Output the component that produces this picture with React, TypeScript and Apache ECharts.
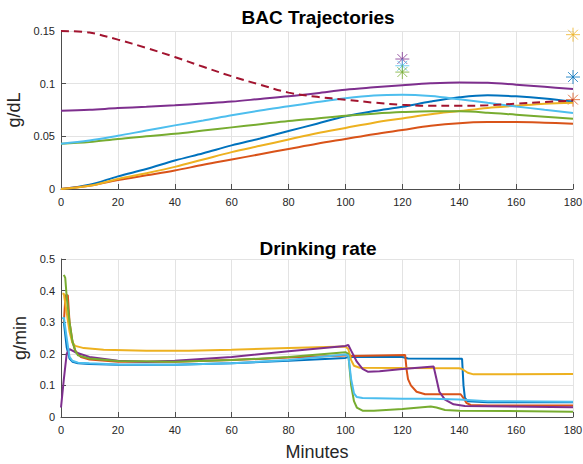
import React, { useEffect, useRef } from "react";
import * as echarts from "echarts";

const COLORS = {
  blue: "#0072BD",
  orange: "#D95319",
  yellow: "#EDB120",
  purple: "#7E2F8E",
  green: "#77AC30",
  lightBlue: "#4DBEEE",
  darkRed: "#A2142F",
};

const xTicks = [0, 20, 40, 60, 80, 100, 120, 140, 160, 180];
const bacTime = [0, 10, 20, 30, 40, 50, 60, 70, 80, 90, 100, 110, 120, 130, 140, 150, 160, 170, 180];

const bacBlue = [0, 0.004, 0.012, 0.019, 0.027, 0.034, 0.0414, 0.048, 0.055, 0.062, 0.069, 0.074, 0.078, 0.083, 0.087, 0.089, 0.088, 0.086, 0.083];
const bacOrange = [0, 0.003, 0.0085, 0.013, 0.0175, 0.023, 0.028, 0.033, 0.038, 0.043, 0.0475, 0.052, 0.056, 0.06, 0.0625, 0.0635, 0.0636, 0.063, 0.062];
const bacYellow = [0, 0.003, 0.0095, 0.015, 0.021, 0.028, 0.035, 0.041, 0.047, 0.053, 0.058, 0.063, 0.067, 0.071, 0.074, 0.077, 0.079, 0.081, 0.082];
const bacPurple = [0.0743, 0.0752, 0.0768, 0.078, 0.0795, 0.0812, 0.083, 0.0855, 0.088, 0.091, 0.0943, 0.0965, 0.0985, 0.1003, 0.1012, 0.1008, 0.099, 0.097, 0.095];
const bacGreen = [0.043, 0.0445, 0.0475, 0.05, 0.0525, 0.0555, 0.0585, 0.0615, 0.0645, 0.067, 0.0695, 0.0715, 0.073, 0.0738, 0.0737, 0.0725, 0.0706, 0.0687, 0.0668];
const bacLightBlue = [0.043, 0.046, 0.0505, 0.0555, 0.0604, 0.065, 0.07, 0.0745, 0.0785, 0.0825, 0.0862, 0.0888, 0.0895, 0.0882, 0.0852, 0.0818, 0.0784, 0.0752, 0.0722];
const bacLimit = [0.15, 0.1485, 0.1418, 0.134, 0.1253, 0.116, 0.107, 0.099, 0.0915, 0.0875, 0.0848, 0.082, 0.08, 0.079, 0.079, 0.0795, 0.081, 0.0825, 0.084];

const targetStars: { t: number; v: number; color: string }[] = [
  { t: 120, v: 0.1234, color: COLORS.purple },
  { t: 120, v: 0.117, color: COLORS.lightBlue },
  { t: 120, v: 0.111, color: COLORS.green },
  { t: 180, v: 0.1465, color: COLORS.yellow },
  { t: 180, v: 0.1063, color: COLORS.blue },
  { t: 180, v: 0.0848, color: COLORS.orange },
];

const rateBlue = [[1, 0.3], [2, 0.22], [3, 0.185], [4, 0.175], [6, 0.17], [10, 0.168], [20, 0.165], [40, 0.165], [60, 0.17], [80, 0.178], [100, 0.187], [101, 0.19], [102, 0.19], [120, 0.19], [122, 0.185], [141, 0.184], [141.5, 0.1], [142, 0.06], [143, 0.05], [150, 0.047], [180, 0.047]];
const rateOrange = [[1, 0.3], [1.6, 0.385], [2.4, 0.385], [3, 0.3], [4, 0.24], [5, 0.21], [7, 0.19], [10, 0.182], [20, 0.175], [40, 0.175], [60, 0.18], [80, 0.188], [100, 0.195], [101, 0.198], [102, 0.193], [121, 0.196], [121.5, 0.15], [122, 0.12], [123, 0.1], [125, 0.08], [128, 0.072], [140.5, 0.072], [141.5, 0.06], [142.5, 0.045], [144, 0.038], [150, 0.036], [180, 0.036]];
const rateYellow = [[0.5, 0.39], [1, 0.39], [2, 0.33], [3, 0.27], [4, 0.235], [5, 0.225], [8, 0.218], [15, 0.213], [30, 0.21], [45, 0.21], [60, 0.213], [80, 0.218], [100, 0.223], [101, 0.215], [102, 0.18], [103, 0.162], [105, 0.156], [120, 0.155], [140, 0.154], [141, 0.152], [143, 0.14], [145, 0.135], [180, 0.136]];
const ratePurple = [[0, 0.03], [1, 0.12], [2, 0.2], [3, 0.215], [5, 0.205], [10, 0.19], [20, 0.178], [30, 0.175], [40, 0.178], [60, 0.19], [80, 0.208], [100, 0.225], [101, 0.228], [102, 0.21], [104, 0.175], [106, 0.152], [108, 0.143], [112, 0.145], [120, 0.152], [131, 0.16], [132, 0.12], [133, 0.08], [135, 0.055], [138, 0.04], [142, 0.035], [180, 0.031]];
const rateGreen = [[1, 0.45], [1.5, 0.44], [2, 0.38], [3, 0.3], [4, 0.24], [5, 0.21], [6, 0.195], [10, 0.185], [20, 0.177], [40, 0.175], [60, 0.18], [80, 0.19], [100, 0.205], [101, 0.2], [102, 0.1], [103, 0.05], [104, 0.03], [106, 0.02], [110, 0.02], [120, 0.025], [130, 0.033], [132, 0.03], [135, 0.022], [140, 0.02], [180, 0.017]];
const rateLightBlue = [[0.5, 0.31], [1, 0.315], [2, 0.25], [3, 0.19], [4, 0.178], [6, 0.172], [10, 0.17], [20, 0.166], [40, 0.165], [60, 0.17], [80, 0.18], [100, 0.198], [101, 0.195], [102, 0.12], [103, 0.075], [104, 0.063], [106, 0.06], [120, 0.058], [130, 0.058], [140, 0.055], [150, 0.05], [180, 0.048]];

const STAR = "path://M0,-10L0,10M-10,0L10,0M-7,-7L7,7M-7,7L7,-7";
const FONT = "Liberation Sans";
const AXIS_COLOR = "#4d4d4d";
const TEXT_COLOR = "#262626";

export default function App() {
  const ref = useRef<HTMLDivElement>(null);
  useEffect(() => {
    if (!ref.current) return;
    const chart = echarts.init(ref.current, undefined, { renderer: "svg" });
    const zip = (ys: number[]) => bacTime.map((t, i) => [t, ys[i]]);
    const axisX = (gridIndex: number, name: string) => ({
      type: "value",
      gridIndex,
      min: xTicks[0],
      max: xTicks[xTicks.length - 1],
      interval: xTicks[1] - xTicks[0],
      name,
      nameLocation: "middle",
      nameGap: 26,
      nameTextStyle: { fontSize: 18, color: TEXT_COLOR, fontFamily: FONT },
      axisLine: { show: true, lineStyle: { color: AXIS_COLOR, width: 1 } },
      axisTick: { show: true, inside: true, length: 5, lineStyle: { color: AXIS_COLOR } },
      axisLabel: { fontSize: 11, color: TEXT_COLOR, fontFamily: FONT, margin: 7 },
      splitLine: { show: true, lineStyle: { color: "#e3e3e3", width: 1 } },
    });
    const axisY = (gridIndex: number, max: number, interval: number, name: string) => ({
      type: "value",
      gridIndex,
      min: 0,
      max,
      interval,
      name,
      nameLocation: "middle",
      nameGap: 30,
      nameTextStyle: { fontSize: 18, color: TEXT_COLOR, fontFamily: FONT },
      axisLine: { show: true, lineStyle: { color: AXIS_COLOR, width: 1 } },
      axisTick: { show: true, inside: true, length: 5, lineStyle: { color: AXIS_COLOR } },
      axisLabel: { fontSize: 11, color: TEXT_COLOR, fontFamily: FONT, margin: 6 },
      splitLine: { show: true, lineStyle: { color: "#e3e3e3", width: 1 } },
    });
    const line = (data: number[][], color: string, xi: number, smooth: boolean, dashed = false) => ({
      type: "line",
      xAxisIndex: xi,
      yAxisIndex: xi,
      data,
      smooth: smooth ? 0.35 : false,
      showSymbol: false,
      symbol: "none",
      lineStyle: { color, width: 2, type: dashed ? [8, 5] : "solid" },
      itemStyle: { color },
    });
    chart.setOption({
      animation: false,
      backgroundColor: "#ffffff",
      grid: [
        { left: 61, top: 31, width: 512, height: 158, containLabel: false, outerBoundsMode: "none" },
        { left: 61, top: 259, width: 512, height: 158, containLabel: false, outerBoundsMode: "none" },
      ],
      xAxis: [axisX(0, ""), axisX(1, "Minutes")],
      yAxis: [axisY(0, 0.15, 0.05, "g/dL"), axisY(1, 0.5, 0.1, "g/min")],
      graphic: [
        { type: "text", x: 318, y: 17, style: { text: "BAC Trajectories", font: `bold 19px "${FONT}"`, fill: "#000", textAlign: "center", textVerticalAlign: "middle" } },
        { type: "text", x: 318, y: 248, style: { text: "Drinking rate", font: `bold 19px "${FONT}"`, fill: "#000", textAlign: "center", textVerticalAlign: "middle" } },
      ],
      series: [
        line(zip(bacBlue), COLORS.blue, 0, true),
        line(zip(bacOrange), COLORS.orange, 0, true),
        line(zip(bacYellow), COLORS.yellow, 0, true),
        line(zip(bacPurple), COLORS.purple, 0, true),
        line(zip(bacGreen), COLORS.green, 0, true),
        line(zip(bacLightBlue), COLORS.lightBlue, 0, true),
        line(zip(bacLimit), COLORS.darkRed, 0, true, true),
        {
          type: "scatter",
          xAxisIndex: 0,
          yAxisIndex: 0,
          clip: false,
          symbol: STAR,
          symbolSize: 14,
          data: targetStars.map((s) => ({
            value: [s.t, s.v],
            itemStyle: { color: "none", borderColor: s.color, borderWidth: 1 },
          })),
        },
        line(rateBlue, COLORS.blue, 1, false),
        line(rateOrange, COLORS.orange, 1, false),
        line(rateYellow, COLORS.yellow, 1, false),
        line(ratePurple, COLORS.purple, 1, false),
        line(rateGreen, COLORS.green, 1, false),
        line(rateLightBlue, COLORS.lightBlue, 1, false),
      ],
    });
    return () => chart.dispose();
  }, []);
  return (
    <div
      ref={ref}
      style={{ position: "fixed", left: 0, top: 0, width: 583, height: 464, background: "#fff" }}
    />
  );
}
